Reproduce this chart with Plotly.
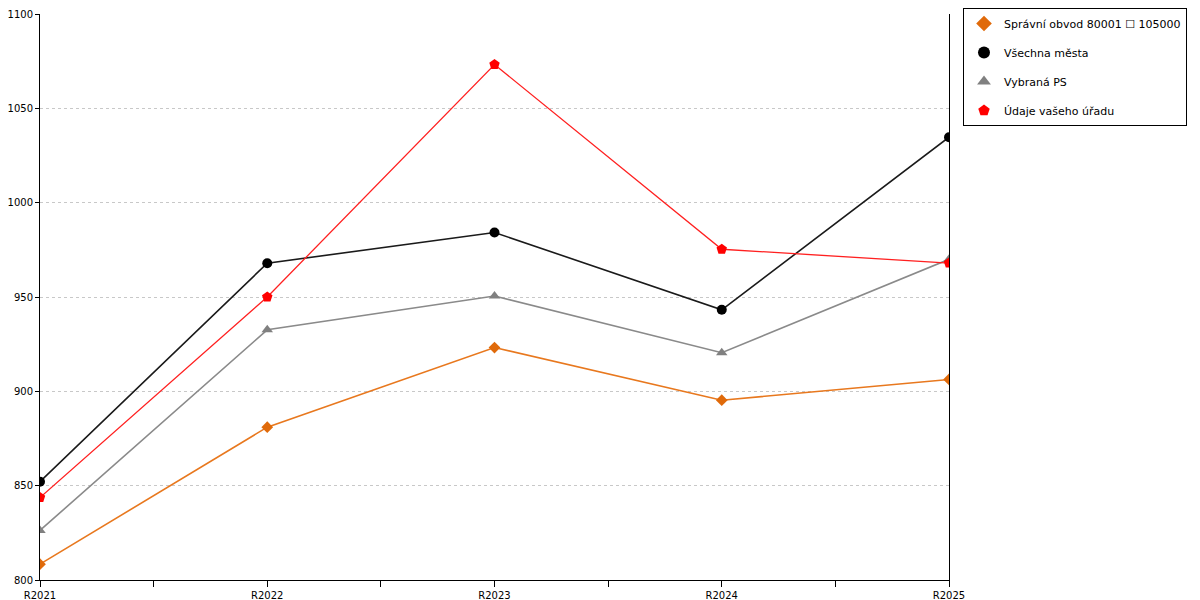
import plotly.graph_objects as go

YEARS = ["R2021", "R2022", "R2023", "R2024", "R2025"]

SPRAVNI_OBVOD = [808.4, 881.0, 923.2, 895.3, 906.3]
VSECHNA_MESTA = [852.1, 967.9, 984.2, 943.2, 1034.7]
VYBRANA_PS = [826.3, 932.6, 950.5, 920.5, 970.0]
VAS_URAD = [843.7, 950.0, 1073.2, 975.3, 968.0]

SERIES = [
    ("Správní obvod 80001 ☐ 105000", SPRAVNI_OBVOD, "#e8781e", "#e06a0a", "diamond", 9, 1.6),
    ("Všechna města", VSECHNA_MESTA, "#1a1a1a", "#000000", "circle", 10, 1.6),
    ("Vybraná PS", VYBRANA_PS, "#8a8a8a", "#808080", "triangle-up", 10, 1.6),
    ("Údaje vašeho úřadu", VAS_URAD, "#ff2020", "#ff0000", "pentagon", 11, 1.3),
]

xs = list(range(len(YEARS)))

fig = go.Figure()

for i, (name, vals, lcol, mcol, sym, size, lw) in enumerate(SERIES):
    # vlastní čára + markery, bez legendy
    fig.add_trace(go.Scatter(
        x=xs, y=vals, mode="lines+markers",
        line=dict(color=lcol, width=lw),
        marker=dict(symbol=sym, size=size, color=mcol),
        showlegend=False, hoverinfo="x+y",
    ))
    # položka legendy jen se symbolem
    fig.add_trace(go.Scatter(
        x=[None], y=[None], mode="markers", name=name,
        marker=dict(symbol=sym, size=size - 1, color=mcol),
        legendgroup=f"g{i}", showlegend=True,
    ))

tickvals = [v / 2 for v in range(2 * len(YEARS) - 1)]
ticktext = [YEARS[int(v)] if v == int(v) else "" for v in tickvals]

fig.update_layout(
    width=1200, height=600,
    paper_bgcolor="white", plot_bgcolor="white",
    font=dict(family="DejaVu Sans", size=10, color="#000000"),
    margin=dict(l=32, r=259, t=6, b=28, autoexpand=False),
    xaxis=dict(
        range=[0, len(YEARS) - 1],
        tickvals=tickvals, ticktext=ticktext,
        ticks="outside", ticklen=6, tickcolor="#000000",
        showline=True, linecolor="#000000", linewidth=1,
        showgrid=False, zeroline=False,
        tickfont=dict(size=10),
    ),
    yaxis=dict(
        range=[800, 1100], dtick=50,
        ticks="outside", ticklen=4, tickcolor="#000000",
        showline=True, linecolor="#000000", linewidth=1, mirror=True,
        showgrid=True, gridcolor="#c8c8c8", griddash="3px,3px", gridwidth=1,
        zeroline=False, ticklabeloverflow="allow",
        tickfont=dict(size=10),
    ),
    legend=dict(
        x=1.0154, y=1.0106, xanchor="left", yanchor="top",
        bgcolor="white", bordercolor="#000000", borderwidth=1,
        font=dict(family="DejaVu Sans", size=11, color="#000000"),
        tracegroupgap=10, itemsizing="constant",
    ),
)

fig.write_html("out.html")
